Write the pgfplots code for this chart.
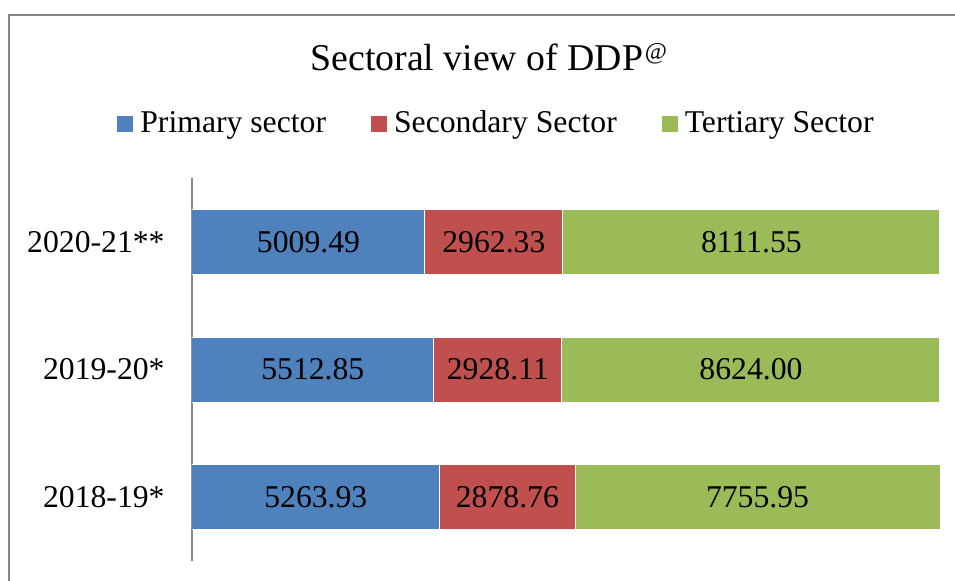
\documentclass[border=0pt]{standalone}
\usepackage{pgfplots}
\pgfplotsset{compat=1.18}
\usepackage{pgfplotstable}
\usepackage{fontspec}
\setmainfont{Liberation Serif}
\definecolor{cprim}{HTML}{4F81BD}
\definecolor{csec}{HTML}{C0504D}
\definecolor{cter}{HTML}{9BBB59}
\definecolor{cframe}{HTML}{868686}
\pgfplotstableread{
idx p s t
0 5263.93 2878.76 7755.95
1 5512.85 2928.11 8624.00
2 5009.49 2962.33 8111.55
}\ddp
\pgfplotsset{ddpaxis/.style={
  at={(96pt,9.5pt)}, anchor=south west, scale only axis,
  width=374pt, height=191.5pt,
  xmin=0, xmax=100, ymin=-0.5, ymax=2.5,
  /pgf/number format/assume math mode=true,
}}
\begin{document}
\fontsize{15.85}{19}\selectfont
\begin{tikzpicture}
\useasboundingbox (0,0) rectangle (477.5pt,290pt);
\clip (0,0) rectangle (477.5pt,290pt);
\draw[cframe, line width=0.75pt] (4.5pt,282.5pt) rectangle (500pt,-20pt);
\begin{axis}[ddpaxis,
  xbar stacked, bar width=32.5pt,
  axis x line=none, axis y line*=left,
  y axis line style={cframe, -, line width=0.75pt},
  ytick={0,1,2}, yticklabels={2018-19*,2019-20*,2020-21**},
  major tick length=0pt,
  yticklabel style={anchor=east, inner sep=0pt, xshift=-13.5pt},
  title={Sectoral view of DDP\kern0.8pt\raisebox{5.5pt}{\fontsize{12}{13}\selectfont @}},
  every axis title shift=0pt,
  title style={at={(0.1578,1.282)}, anchor=base west, font=\fontsize{18.9}{22}\selectfont, inner sep=0pt},
  legend columns=3,
  legend style={at={(0.4057,1.141)}, anchor=center, draw=none, fill=none,
    nodes={inner sep=0pt, anchor=west},
    /tikz/every odd column/.append style={column sep=3.5pt},
    /tikz/every even column/.append style={column sep=22.5pt}},
  legend image code/.code={\path[#1,draw=none] (0pt,-4pt) rectangle (8pt,4pt);},
]
\addplot[fill=cprim, draw=white, line width=0.5pt] table[x expr={100*\thisrow{p}/(\thisrow{p}+\thisrow{s}+\thisrow{t})}, y=idx]{\ddp};
\addplot[fill=csec, draw=white, line width=0.5pt] table[x expr={100*\thisrow{s}/(\thisrow{p}+\thisrow{s}+\thisrow{t})}, y=idx]{\ddp};
\addplot[fill=cter, draw=white, line width=0.5pt] table[x expr={100*\thisrow{t}/(\thisrow{p}+\thisrow{s}+\thisrow{t})}, y=idx]{\ddp};
\legend{Primary sector, Secondary Sector, Tertiary Sector}
\end{axis}
\begin{axis}[ddpaxis, hide axis,
  nodes near coords={\pgfmathprintnumber[fixed,fixed zerofill,precision=2,1000 sep={}]{\pgfplotspointmeta}},
  every node near coord/.append style={anchor=center, text=black, inner sep=0pt},
]
\addplot[draw=none, mark=none, point meta=explicit] table[x expr={50*\thisrow{p}/(\thisrow{p}+\thisrow{s}+\thisrow{t})}, y=idx, meta=p]{\ddp};
\addplot[draw=none, mark=none, point meta=explicit] table[x expr={100*(\thisrow{p}+0.5*\thisrow{s})/(\thisrow{p}+\thisrow{s}+\thisrow{t})}, y=idx, meta=s]{\ddp};
\addplot[draw=none, mark=none, point meta=explicit] table[x expr={100*(\thisrow{p}+\thisrow{s}+0.5*\thisrow{t})/(\thisrow{p}+\thisrow{s}+\thisrow{t})}, y=idx, meta=t]{\ddp};
\end{axis}
\end{tikzpicture}
\end{document}
